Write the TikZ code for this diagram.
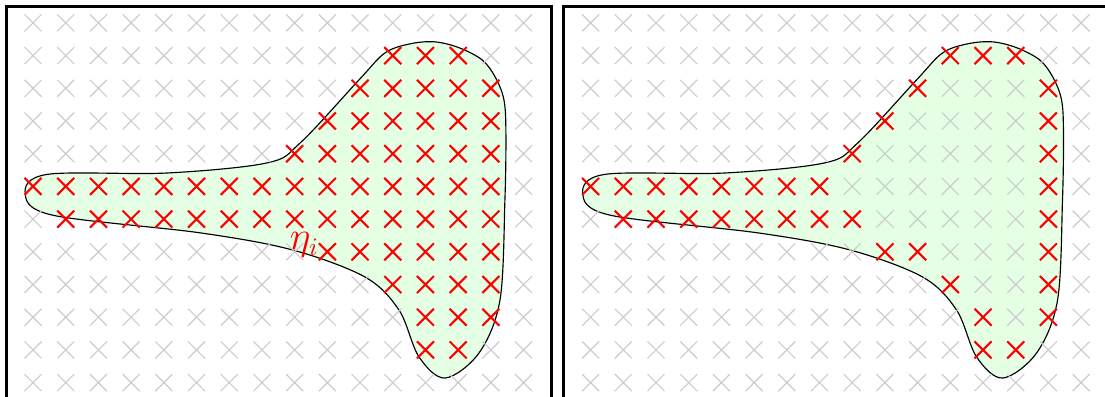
\documentclass[tikz,border=0pt]{standalone}
\usepackage{tikz}

\begin{document}
\begin{tikzpicture}[
  x=0.5cm, y=0.5cm,
  panel/.style={draw=black, line width=1.3pt},
  region/.style={fill=green!10, draw=black, line width=0.5pt},
  gridmark/.style={draw=gray!40, line width=0.5pt},
  hitmark/.style={draw=red, line width=0.9pt},
  blob/.style={smooth cycle, tension=0.55}
]
\clip (-1.01,0.70) rectangle (32.78,-11.41);

% both panels: frame, region, grid of sample points
\foreach \ox in {0,17.05} {
  \begin{scope}[shift={(\ox,0)}]
    \draw[panel] (-0.825,0.495) rectangle (15.84,-12.5);
    \path[region] plot[blob] coordinates {
      (-0.24,-5.22) (0.45,-4.63) (4.10,-4.59) (7.16,-4.28) (8.17,-3.67)
      (9.97,-1.74) (10.76,-0.92) (11.53,-0.64) (12.29,-0.58) (13.03,-0.76) (13.73,-1.13)
      (14.13,-1.65) (14.40,-2.35) (14.46,-3.36) (14.43,-5.41) (14.28,-8.47) (13.64,-10.09)
      (12.60,-10.86) (11.80,-10.21) (11.19,-8.78) (10.15,-7.77) (7.92,-6.94) (5.11,-6.42)
      (0.60,-5.88)};
    \foreach \i in {0,...,15}
      \foreach \j in {0,...,11}
        \draw[gridmark] (\i,-\j) ++(-0.26,-0.26) -- ++(0.52,0.52) ++(-0.52,0) -- ++(0.52,-0.52);
  \end{scope}
}

% left: all sample points inside the region
\foreach \j/\a/\b in {1/11/13, 2/10/14, 3/9/14, 4/8/14, 5/0/14, 6/1/14, 7/9/14, 8/11/14, 9/12/14, 10/12/13}
  \foreach \i in {\a,...,\b}
    \draw[hitmark] (\i,-\j) ++(-0.26,-0.26) -- ++(0.52,0.52) ++(-0.52,0) -- ++(0.52,-0.52);

\node[text=red, font=\fontsize{16}{18}\selectfont, inner sep=0pt] (eta) at (8.3,-6.8) {$\eta_i$};

% right: only the boundary points
\begin{scope}[shift={(17.05,0)}]
  \foreach \i/\j in {11/1, 12/1, 13/1, 10/2, 14/2, 9/3, 14/3, 8/4, 14/4, 14/5, 14/6,
                     9/7, 10/7, 14/7, 11/8, 14/8, 12/9, 14/9, 12/10, 13/10}
    \draw[hitmark] (\i,-\j) ++(-0.26,-0.26) -- ++(0.52,0.52) ++(-0.52,0) -- ++(0.52,-0.52);
  \foreach \i in {0,...,7}
    \draw[hitmark] (\i,-5) ++(-0.26,-0.26) -- ++(0.52,0.52) ++(-0.52,0) -- ++(0.52,-0.52);
  \foreach \i in {1,...,8}
    \draw[hitmark] (\i,-6) ++(-0.26,-0.26) -- ++(0.52,0.52) ++(-0.52,0) -- ++(0.52,-0.52);
\end{scope}

\end{tikzpicture}
\end{document}
